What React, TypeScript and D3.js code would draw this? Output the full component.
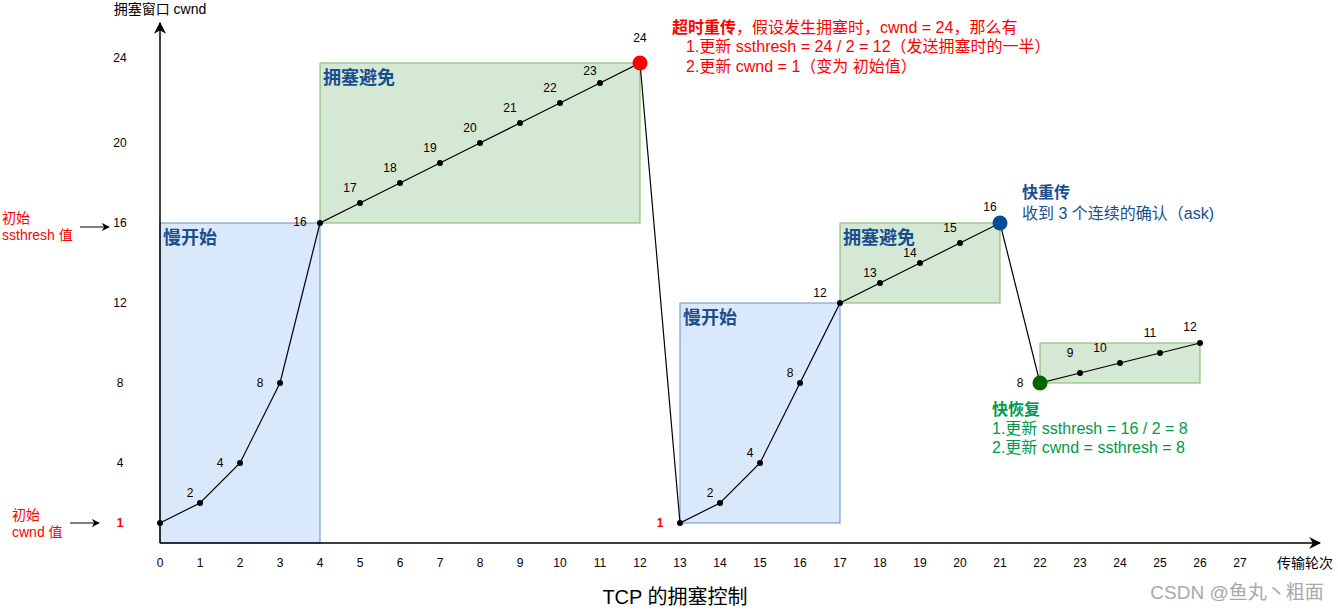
import React from "react";
import * as d3 from "d3";

// ---- data ----
const rounds = [0,1,2,3,4,5,6,7,8,9,10,11,12,13,14,15,16,17,18,19,20,21,22,23,24,25,26];
// cwnd value written next to each point
const cwndLabel = [1,2,4,8,16,17,18,19,20,21,22,23,24,1,2,4,8,12,13,14,15,16,8,9,10,11,12];
// cwnd height at which each point is drawn in the figure (fast-recovery part is drawn compressed)
const cwndDrawn = [1,2,4,8,16,17,18,19,20,21,22,23,24,1,2,4,8,12,13,14,15,16,8,8.5,9,9.5,10];
// label offsets (px) for each point label
const labelDx = [0,-10,-20,-20,-20,-10,-10,-10,-10,-10,-10,-10,0,-20,-10,-10,-10,-20,-10,-10,-10,-10,-20,-10,-20,-10,-10];
const labelDy = [0,-10,0,0,-1,-15,-15,-15,-15,-15,-15,-12,-25,0,-10,-10,-10,-10,-10,-10,-15,-16,0,-20,-15,-20,-16];

const yTicks = [1, 4, 8, 12, 16, 20, 24];
const xTicks = d3.range(0, 28);

// phase boxes
const phaseStart = [0, 4, 13, 17, 22];
const phaseEnd = [4, 12, 17, 21, 26];
const phaseLow = [0, 16, 1, 12, 8];
const phaseHigh = [16, 24, 12, 16, 10];
const phaseKind = ["ss", "ca", "ss", "ca", "ca"];
const phaseLabel = ["慢开始", "拥塞避免", "慢开始", "拥塞避免", ""];

const FONT = "'Liberation Sans', Arial, 'Noto Sans CJK SC', sans-serif";

export default function App() {
  const W = 1338, H = 611;
  const x = d3.scaleLinear().domain([0, 27]).range([160, 1240]);
  const y = d3.scaleLinear().domain([0, 24]).range([543, 63]);
  const pts = rounds.map((r, i) => [x(r), y(cwndDrawn[i])] as [number, number]);
  const line = d3.line()(pts) || "";

  const red = "#FF0000";
  const blueText = "#1A4E8C";
  const greenText = "#00994D";

  const special: Record<number, string> = { 12: "#FF0000", 21: "#004C99", 22: "#006600" };

  return (
    <svg width={W} height={H} style={{ position: "absolute", left: 0, top: 0, background: "#fff" }} fontFamily={FONT}>
      <defs>
        <marker id="arr" viewBox="0 0 10 10" refX="9" refY="5" markerWidth="8" markerHeight="8" markerUnits="userSpaceOnUse" orient="auto">
          <path d="M0,0 L10,5 L0,10 L3,5 z" fill="#000" />
        </marker>
        <marker id="arrBig" viewBox="0 0 10 10" refX="9" refY="5" markerWidth="12" markerHeight="12" markerUnits="userSpaceOnUse" orient="auto">
          <path d="M0,0 L10,5 L0,10 L3,5 z" fill="#000" />
        </marker>
      </defs>

      {/* phase boxes */}
      {phaseStart.map((s, i) => {
        const ss = phaseKind[i] === "ss";
        const top = i === 4 ? y(cwndDrawn[26]) : y(phaseHigh[i]);
        return (
          <g key={"p" + i}>
            <rect x={x(s)} y={top} width={x(phaseEnd[i]) - x(s)} height={y(phaseLow[i]) - top}
              fill={ss ? "#DAE8FC" : "#D5E8D4"} stroke={ss ? "#6C8EBF" : "#82B366"} strokeWidth={1} />
            {phaseLabel[i] && (
              <text x={x(s) + 3} y={top + 15} dominantBaseline="central" fontSize={18} fontWeight="bold" fill={blueText}>
                {phaseLabel[i]}
              </text>
            )}
          </g>
        );
      })}

      {/* axes */}
      <line x1={x(0)} y1={543} x2={1320} y2={543} stroke="#000" strokeWidth={1.5} markerEnd="url(#arrBig)" />
      <line x1={x(0)} y1={543} x2={x(0)} y2={23} stroke="#000" strokeWidth={1.5} markerEnd="url(#arrBig)" />
      <text x={160} y={9} textAnchor="middle" dominantBaseline="central" fontSize={14} fill="#000">拥塞窗口 cwnd</text>
      <text x={1305} y={563} textAnchor="middle" dominantBaseline="central" fontSize={14} fill="#000">传输轮次</text>

      {yTicks.map((v) => (
        <text key={"yt" + v} x={120} y={y(v) + (v === 24 ? -5 : 0)} textAnchor="middle" dominantBaseline="central" fontSize={12}
          fill={v === 1 ? red : "#000"} fontWeight={v === 1 ? "bold" : "normal"}>{v}</text>
      ))}
      {xTicks.map((v) => (
        <text key={"xt" + v} x={x(v)} y={563} textAnchor="middle" dominantBaseline="central" fontSize={12} fill="#000">{v}</text>
      ))}

      {/* left annotations */}
      <text x={2} y={218} dominantBaseline="central" fontSize={14} fill={red}>初始</text>
      <text x={2} y={235} dominantBaseline="central" fontSize={14} fill={red}>ssthresh 值</text>
      <line x1={80} y1={227} x2={109} y2={227} stroke="#000" strokeWidth={1} markerEnd="url(#arr)" />
      <text x={12} y={515} dominantBaseline="central" fontSize={14} fill={red}>初始</text>
      <text x={12} y={532} dominantBaseline="central" fontSize={14} fill={red}>cwnd 值</text>
      <line x1={70} y1={523} x2={99} y2={523} stroke="#000" strokeWidth={1} markerEnd="url(#arr)" />

      {/* cwnd line */}
      <path d={line} fill="none" stroke="#000" strokeWidth={1.2} />
      {pts.map((p, i) => (
        <circle key={"c" + i} cx={p[0]} cy={p[1]} r={special[i] ? 7.5 : 3} fill={special[i] || "#000"} />
      ))}
      {pts.map((p, i) => i === 0 ? null : (
        <text key={"l" + i} x={p[0] + labelDx[i]} y={p[1] + labelDy[i]} textAnchor="middle" dominantBaseline="central"
          fontSize={12} fill={i === 13 ? red : "#000"} fontWeight={i === 13 ? "bold" : "normal"}>{cwndLabel[i]}</text>
      ))}

      {/* timeout annotation */}
      <text x={672} y={27} dominantBaseline="central" fontSize={16} fill={red}>
        <tspan fontWeight="bold">超时重传</tspan>，假设发生拥塞时，cwnd = 24，那么有
      </text>
      <text x={686} y={46} dominantBaseline="central" fontSize={16} fill={red}>1.更新 ssthresh = 24 / 2 = 12（发送拥塞时的一半）</text>
      <text x={686} y={66} dominantBaseline="central" fontSize={16} fill={red}>2.更新 cwnd = 1（变为 初始值）</text>

      {/* fast retransmit */}
      <text x={1022} y={192} dominantBaseline="central" fontSize={16} fontWeight="bold" fill={blueText}>快重传</text>
      <text x={1022} y={213} dominantBaseline="central" fontSize={16} fill={blueText}>收到 3 个连续的确认（ask)</text>

      {/* fast recovery */}
      <text x={992} y={409} dominantBaseline="central" fontSize={16} fontWeight="bold" fill={greenText}>快恢复</text>
      <text x={992} y={428} dominantBaseline="central" fontSize={16} fill={greenText}>1.更新 ssthresh = 16 / 2 = 8</text>
      <text x={992} y={447} dominantBaseline="central" fontSize={16} fill={greenText}>2.更新 cwnd = ssthresh = 8</text>

      {/* title & watermark */}
      <text x={675} y={597} textAnchor="middle" dominantBaseline="central" fontSize={20} fill="#000">TCP 的拥塞控制</text>
      <text x={1237} y={592} textAnchor="middle" dominantBaseline="central" fontSize={19} fill="#A8A8A8">CSDN @鱼丸丶粗面</text>
    </svg>
  );
}
